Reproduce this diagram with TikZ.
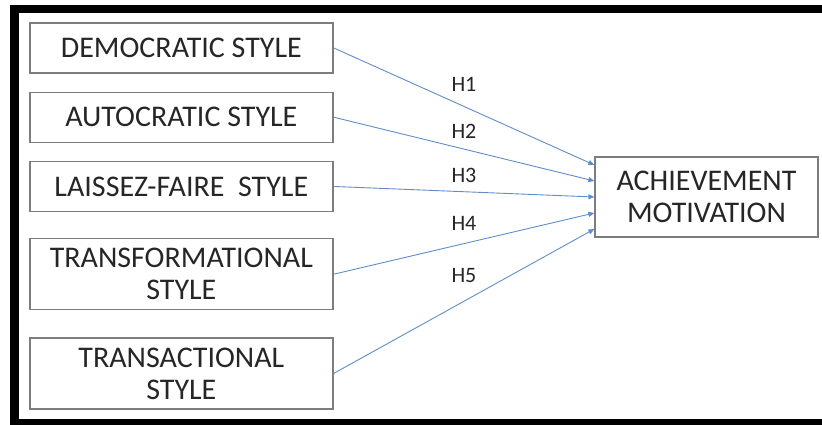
\documentclass[tikz,border=0pt]{standalone}
\usepackage{fontspec}
\setmainfont{Carlito}
\usetikzlibrary{matrix,arrows.meta}
\definecolor{linkblue}{RGB}{96,140,200}
\definecolor{boxgray}{RGB}{125,125,125}
\definecolor{inkgray}{RGB}{38,38,38}
\tikzset{
	box/.style = { draw=boxgray, line width=1.3pt, inner sep=2pt, align=center, minimum width=303pt, minimum height=50pt, text=inkgray, font=\fontsize{30}{32}\selectfont },
	tall/.style = { box, minimum height=71pt },
	arrow/.style = { line width=0.9pt, color=linkblue, -{Triangle[length=6pt,width=5pt]} },
	hlabel/.style = { font=\fontsize{22}{24}\selectfont, text=inkgray, inner sep=0pt },
	frame/.style = { fill=black },
}

\begin{document}
\begin{tikzpicture}[x=1pt,y=-1pt]
\useasboundingbox (0,0) rectangle (822,425);
\fill[frame] (10,5) rectangle (822,13);
\fill[frame] (10,5) rectangle (19,425);
\fill[frame] (10,419) rectangle (822,425);
\matrix (m)
[
anchor          = north west,
inner sep       = 0pt,
row sep         = 18pt,
]
at (29,22)
{
	\node[box] (dem) {DEMOCRATIC STYLE};\\
	\node[box] (auto) {AUTOCRATIC STYLE};\\
	\node[box] (laiss) {LAISSEZ-FAIRE~~STYLE};\\[8pt]
	\node[tall] (transf) {TRANSFORMATIONAL\\STYLE};\\[9pt]
	\node[tall] (transa) {TRANSACTIONAL\\STYLE};\\
};
\node[box, minimum width=223pt, minimum height=80pt] (ach) at (706.5,197) {ACHIEVEMENT\\MOTIVATION};
\draw[arrow] (dem.east) -- ([yshift=32pt]ach.west) node[hlabel, pos=.5, yshift=22pt] {H1};
\draw[arrow] (auto.east) -- ([yshift=16pt]ach.west) node[hlabel, pos=.5, yshift=17.5pt] {H2};
\draw[arrow] (laiss.east) -- (ach.west) node[hlabel, pos=.5, yshift=16.5pt] {H3};
\draw[arrow] (transf.east) -- ([yshift=-16pt]ach.west) node[hlabel, pos=.5, yshift=20pt] {H4};
\draw[arrow] (transa.east) -- ([yshift=-32pt]ach.west) node[hlabel, pos=.5, yshift=26pt] {H5};
\end{tikzpicture}
\end{document}
